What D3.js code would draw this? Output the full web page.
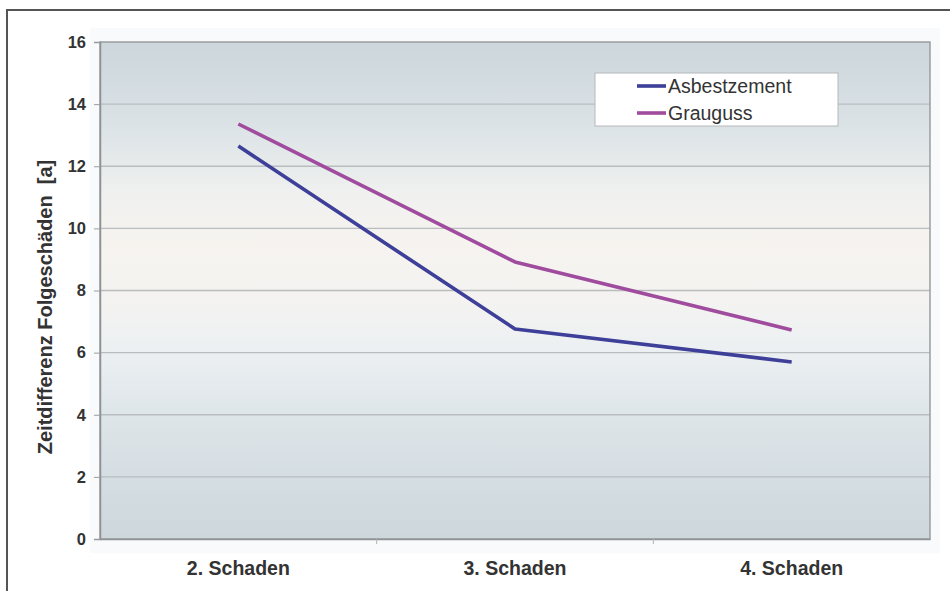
<!DOCTYPE html>
<html>
<head>
<meta charset="utf-8">
<script src="https://cdn.jsdelivr.net/npm/d3@7"></script>
<style>
  html, body { margin: 0; padding: 0; background: #fff; }
  svg { display: block; font-family: "Liberation Sans", Arial, sans-serif; }
</style>
</head>
<body>
<svg id="chart" width="950" height="591"></svg>
<script>
// Zeitdifferenz zwischen Folgeschäden je Werkstoff
const categories = ["2. Schaden", "3. Schaden", "4. Schaden"];
const asbestzement = [12.65, 6.76, 5.70];
const grauguss = [13.36, 8.92, 6.73];
const yTicks = [0, 2, 4, 6, 8, 10, 12, 14, 16];
const seriesNames = ["Asbestzement", "Grauguss"];
const seriesColors = ["#3d3f98", "#a04c9e"];

const svg = d3.select("#chart");
const W = 950, H = 591;
const m = { left: 100, top: 42, right: 930, bottom: 539 };

// outer frame
svg.append("rect").attr("x", 7).attr("y", 10).attr("width", W).attr("height", H)
  .attr("fill", "#fff").attr("stroke", "#555").attr("stroke-width", 2);

// faint chart-area tint around the plot
svg.append("rect").attr("x", 90).attr("y", 28).attr("width", 850).attr("height", 525)
  .attr("fill", "#f9fafb");

const defs = svg.append("defs");
const grad = defs.append("linearGradient").attr("id", "bg")
  .attr("x1", 0).attr("y1", 0).attr("x2", 0).attr("y2", 1);
[
  [0.00, "#ccd6db"],
  [0.15, "#d9e1e5"],
  [0.30, "#eff0ef"],
  [0.40, "#f6f3ef"],
  [0.52, "#f4f3f1"],
  [0.62, "#ecf0f2"],
  [0.78, "#dbe3e7"],
  [1.00, "#cdd7dc"]
].forEach(([o, c]) => grad.append("stop").attr("offset", o).attr("stop-color", c));

const x = d3.scaleBand().domain(categories).range([m.left, m.right]);
const y = d3.scaleLinear().domain([0, 16]).range([m.bottom, m.top]);

svg.append("rect").attr("x", m.left).attr("y", m.top)
  .attr("width", m.right - m.left).attr("height", m.bottom - m.top)
  .attr("fill", "url(#bg)");

// horizontal gridlines
svg.append("g").selectAll("line").data(yTicks.filter(d => d > 0 && d < 16)).join("line")
  .attr("x1", m.left).attr("x2", m.right)
  .attr("y1", d => y(d)).attr("y2", d => y(d))
  .attr("stroke", "#b9bdbf").attr("stroke-width", 1.3);

// plot frame
svg.append("rect").attr("x", m.left).attr("y", m.top)
  .attr("width", m.right - m.left).attr("height", m.bottom - m.top)
  .attr("fill", "none").attr("stroke", "#9a9d9f").attr("stroke-width", 1.5);

// y axis
const yAxis = svg.append("g").attr("transform", `translate(${m.left},0)`)
  .call(d3.axisLeft(y).tickValues(yTicks).tickSize(6).tickPadding(8));
yAxis.select(".domain").attr("stroke", "#8f9294").attr("stroke-width", 1.5);
yAxis.selectAll(".tick line").attr("stroke", "#9a9d9f");
yAxis.selectAll(".tick text")
  .attr("fill", "#333").attr("font-size", 16.5).attr("font-weight", "bold")
  .attr("font-family", "Liberation Sans, Arial, sans-serif");

// x axis
const xAxis = svg.append("g").attr("transform", `translate(0,${m.bottom})`)
  .call(d3.axisBottom(x).tickSize(0).tickPadding(22));
xAxis.select(".domain").attr("stroke", "#8f9294").attr("stroke-width", 1.5);
xAxis.selectAll(".tick text")
  .attr("fill", "#333").attr("font-size", 19.5).attr("font-weight", "bold")
  .attr("font-family", "Liberation Sans, Arial, sans-serif");
// boundary ticks between categories
svg.append("g").selectAll("line")
  .data(categories.slice(1)).join("line")
  .attr("x1", d => x(d)).attr("x2", d => x(d))
  .attr("y1", m.bottom).attr("y2", m.bottom + 5)
  .attr("stroke", "#b0b3b5");

// axis title
svg.append("text")
  .attr("transform", `translate(52,307) rotate(-90)`)
  .attr("text-anchor", "middle")
  .attr("fill", "#333").attr("font-size", 20).attr("font-weight", "bold")
  .attr("xml:space", "preserve")
  .text("Zeitdifferenz Folgeschäden  [a]");

// series lines
const line = d3.line().x((d, i) => x(categories[i]) + x.bandwidth() / 2).y(d => y(d));
[asbestzement, grauguss].forEach((vals, i) => {
  svg.append("path").datum(vals)
    .attr("d", line)
    .attr("fill", "none")
    .attr("stroke", seriesColors[i])
    .attr("stroke-width", 3.6)
    .attr("stroke-linejoin", "round");
});

// legend
const lg = svg.append("g").attr("transform", "translate(595,73)");
lg.append("rect").attr("width", 243).attr("height", 53)
  .attr("fill", "#fff").attr("stroke", "#b5b8ba").attr("stroke-width", 1);
seriesNames.forEach((name, i) => {
  const cy = 13 + i * 27;
  lg.append("line").attr("x1", 42).attr("x2", 71).attr("y1", cy).attr("y2", cy)
    .attr("stroke", seriesColors[i]).attr("stroke-width", 3.6);
  lg.append("text").attr("x", 73).attr("y", cy + 7)
    .attr("fill", "#333").attr("font-size", 19.5)
    .text(name);
});
</script>
</body>
</html>
